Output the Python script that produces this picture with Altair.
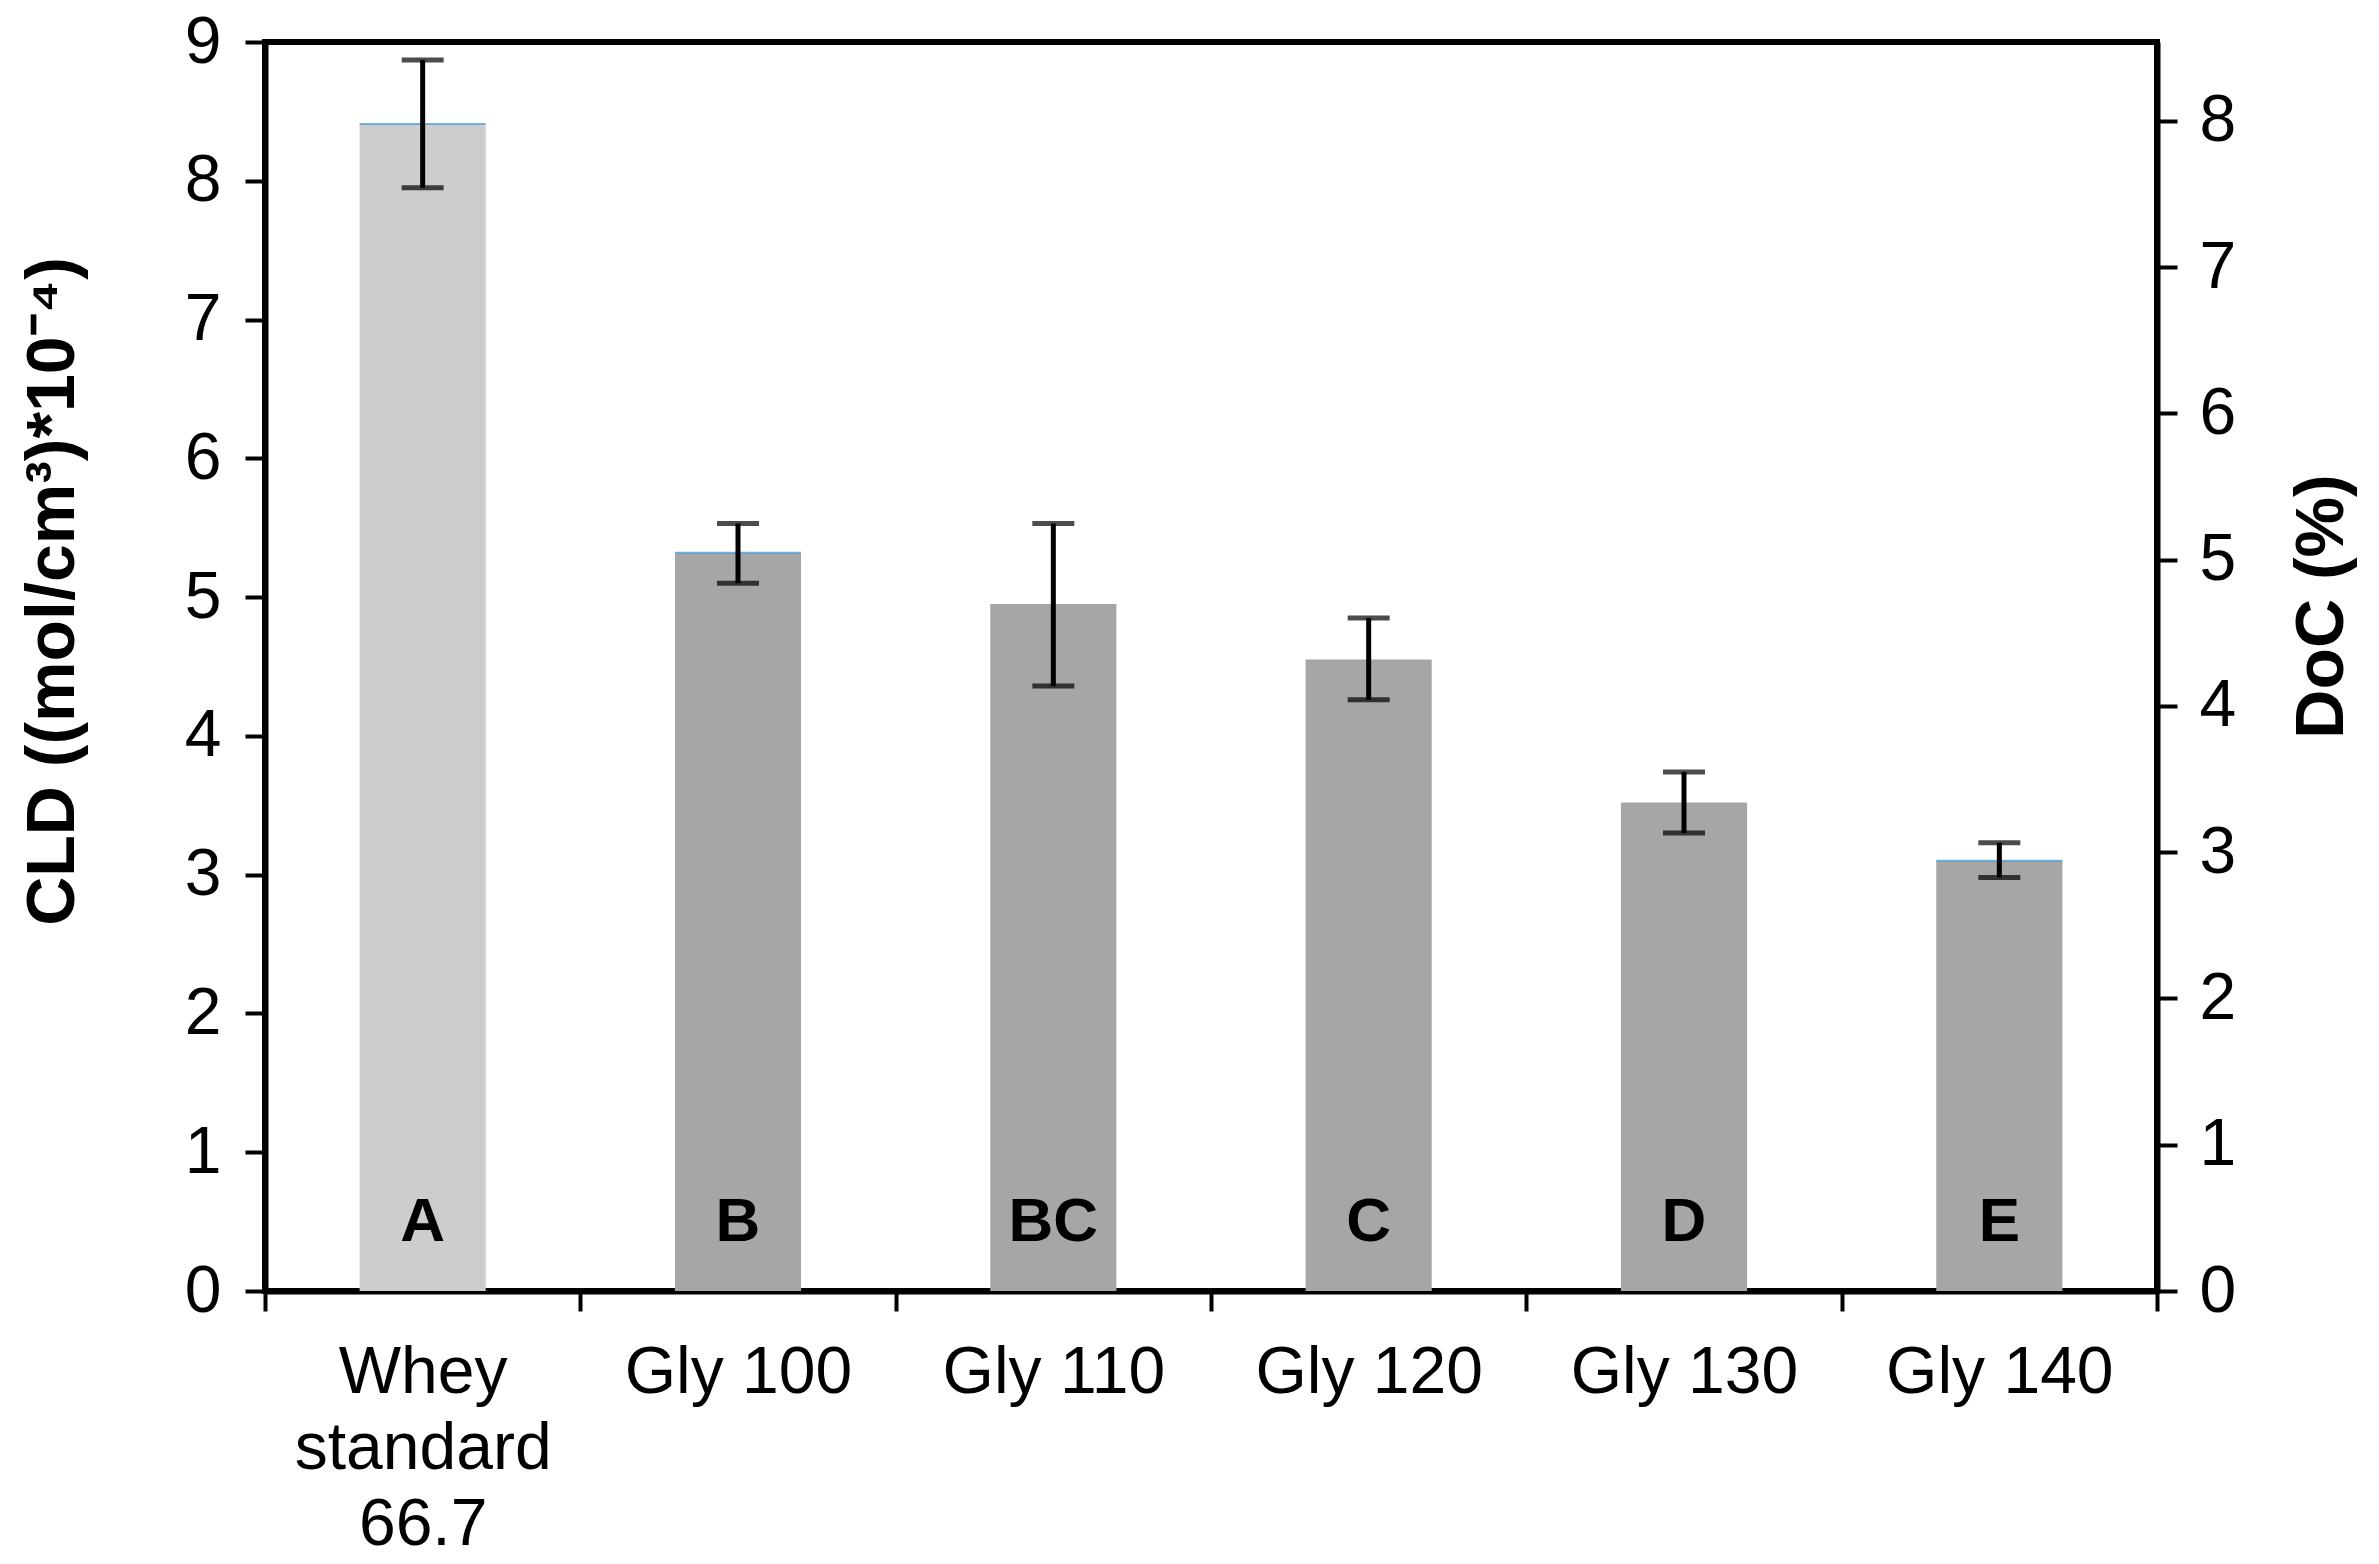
import altair as alt
import pandas as pd

categories = ["Whey standard 66.7", "Gly 100", "Gly 110", "Gly 120", "Gly 130", "Gly 140"]
cld = [8.41, 5.32, 4.95, 4.55, 3.52, 3.10]
err_low = [7.95, 5.10, 4.36, 4.26, 3.30, 2.98]
err_high = [8.87, 5.53, 5.53, 4.85, 3.74, 3.23]
letters = ["A", "B", "BC", "C", "D", "E"]
top_line = [True, True, False, False, False, True]
cld_ticks = list(range(0, 10))
doc_ticks = list(range(0, 9))
doc_max = 8.54

FONT = "Liberation Sans"

df = pd.DataFrame({
    "cat": categories,
    "cld": cld,
    "lo": err_low,
    "hi": err_high,
    "letter": letters,
    "topline": top_line,
})
doc_df = pd.DataFrame({"doc": doc_ticks})

x_enc = alt.X(
    "cat:N",
    sort=categories,
    scale=alt.Scale(paddingInner=0, paddingOuter=0),
    axis=alt.Axis(
        title=None,
        labelAngle=0,
        tickBand="extent",
        labelExpr="datum.label == 'Whey standard 66.7' ? ['Whey', 'standard', '66.7'] : datum.label",
        labelFont=FONT,
        labelFontSize=66,
        labelColor="black",
        labelPadding=29,
        labelLineHeight=76,
        labelLimit=500,
        labelOverlap=False,
        domainColor="black",
        domainWidth=6,
        tickColor="black",
        tickWidth=4,
        tickSize=20,
    ),
)

y_scale = alt.Scale(domain=[0, 9], nice=False)
y_axis = alt.Axis(
    title="CLD ((mol/cm³)*10⁻⁴)",
    values=cld_ticks,
    format="d",
    titleFont=FONT,
    titleFontSize=68,
    titleFontWeight="bold",
    titleColor="black",
    titleAngle=270,
    titleAlign="center",
    titleBaseline="middle",
    titleX=-212,
    titleY=549,
    labelFont=FONT,
    labelFontSize=66,
    labelColor="black",
    labelPadding=24,
    domainColor="black",
    domainWidth=6,
    tickColor="black",
    tickWidth=4,
    tickSize=20,
    grid=False,
)

bars = alt.Chart(df).mark_bar(width=alt.RelativeBandSize(0.4)).encode(
    x=x_enc,
    y=alt.Y("cld:Q", scale=y_scale, axis=y_axis),
    color=alt.condition(
        "datum.cat == 'Whey standard 66.7'",
        alt.value("#cdcdcd"),
        alt.value("#a6a6a6"),
    ),
)

toplines = alt.Chart(df).transform_filter("datum.topline").mark_tick(
    color="#3d9ad6", thickness=2, size=126
).encode(
    x=alt.X("cat:N", sort=categories),
    y=alt.Y("cld:Q", scale=y_scale),
)

err_rule = alt.Chart(df).mark_rule(color="black", strokeWidth=5).encode(
    x=alt.X("cat:N", sort=categories),
    y=alt.Y("lo:Q", scale=y_scale),
    y2="hi:Q",
)
cap_hi = alt.Chart(df).mark_tick(color="black", thickness=5, size=42).encode(
    x=alt.X("cat:N", sort=categories),
    y=alt.Y("hi:Q", scale=y_scale),
)
cap_lo = alt.Chart(df).mark_tick(color="black", thickness=5, size=42).encode(
    x=alt.X("cat:N", sort=categories),
    y=alt.Y("lo:Q", scale=y_scale),
)

letter_text = alt.Chart(df).mark_text(
    font=FONT, fontSize=62, fontWeight="bold", color="black", baseline="middle", align="center"
).encode(
    x=alt.X("cat:N", sort=categories),
    y=alt.datum(0.5, scale=y_scale),
    text="letter:N",
)

left_layer = alt.layer(bars, toplines, err_rule, cap_hi, cap_lo, letter_text)

right_layer = alt.Chart(doc_df).mark_tick(opacity=0).encode(
    y=alt.Y(
        "doc:Q",
        scale=alt.Scale(domain=[0, doc_max], nice=False),
        axis=alt.Axis(
            orient="right",
            title="DoC (%)",
            values=doc_ticks,
            format="d",
            titleFont=FONT,
            titleFontSize=68,
            titleFontWeight="bold",
            titleColor="black",
            titleAngle=270,
            titleAlign="center",
            titleBaseline="middle",
            titleX=165,
            titleY=564,
            labelFont=FONT,
            labelFontSize=66,
            labelColor="black",
            labelPadding=22,
            domainColor="black",
            domainWidth=6,
            tickColor="black",
            tickWidth=4,
            tickSize=20,
            grid=False,
        ),
    )
)

chart = alt.layer(left_layer, right_layer).resolve_scale(y="independent").properties(
    width=1892,
    height=1249,
    autosize=alt.AutoSizeParams(type="none"),
    padding={"left": 257, "top": 34, "right": 214, "bottom": 265},
    background="white",
).configure_view(
    stroke="black", strokeWidth=6
).configure_axis(grid=False)

chart.save("out.html", embed_options={"renderer": "svg", "actions": False})
